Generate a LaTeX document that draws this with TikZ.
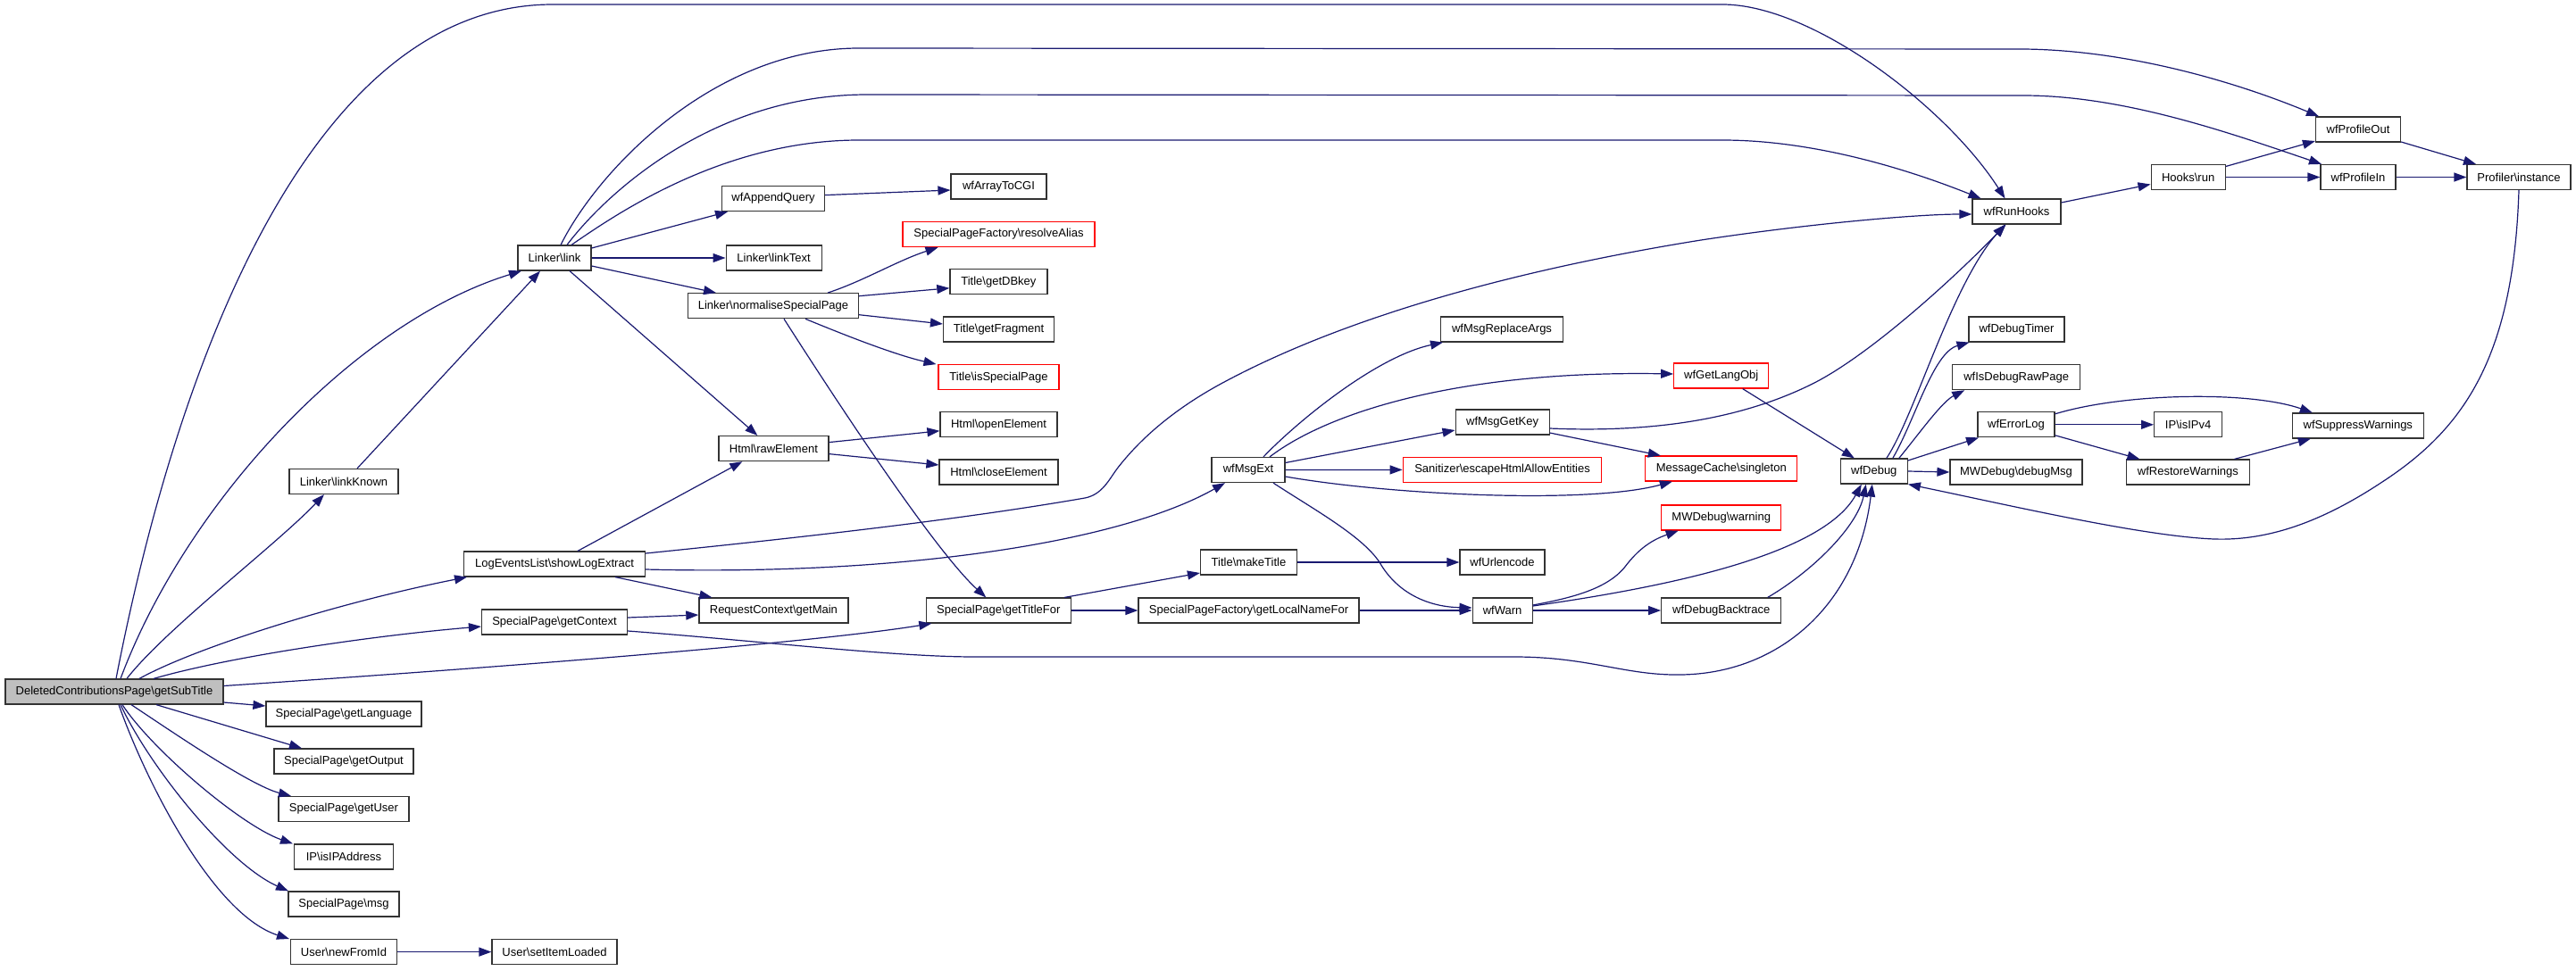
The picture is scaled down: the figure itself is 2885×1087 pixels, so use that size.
\documentclass[tikz,border=0pt]{standalone}
\usepackage{fontspec}
\setmainfont{Liberation Sans}
\usetikzlibrary{arrows.meta}
\definecolor{mblue}{RGB}{25,25,112}
\definecolor{boxgray}{RGB}{191,191,191}
\newcommand{\bsl}{\textbackslash}
\begin{document}
\begin{tikzpicture}[x=1pt,y=-1pt,
  box/.style={draw=black!80, line width=1.2pt, fill=white, minimum height=28pt, inner sep=0pt, font=\fontsize{13}{15}\selectfont, anchor=center},
  redbox/.style={box, draw=red},
  edge/.style={draw=mblue, line width=1.2pt, -{Triangle[length=14pt,width=10pt]}}]
\fill[white] (0,0) rectangle (2885,1087);
\useasboundingbox (0,0) rectangle (2885,1087);

% nodes
\node[box, minimum width=244pt, fill=boxgray] (D) at (128,775) {DeletedContributionsPage\bsl getSubTitle};
\node[box, minimum width=82pt] (link) at (621,289) {Linker\bsl link};
\node[box, minimum width=122pt] (linkKnown) at (385,539.5) {Linker\bsl linkKnown};
\node[box, minimum width=203pt] (showLog) at (621,632) {LogEventsList\bsl showLogExtract};
\node[box, minimum width=163pt] (getContext) at (621,697) {SpecialPage\bsl getContext};
\node[box, minimum width=174pt] (getLanguage) at (385,800) {SpecialPage\bsl getLanguage};
\node[box, minimum width=156pt] (getOutput) at (385,853) {SpecialPage\bsl getOutput};
\node[box, minimum width=146pt] (getUser) at (385,906.5) {SpecialPage\bsl getUser};
\node[box, minimum width=111pt] (isIPAddress) at (385,960) {IP\bsl isIPAddress};
\node[box, minimum width=124pt] (msg) at (385,1013) {SpecialPage\bsl msg};
\node[box, minimum width=119pt] (newFromId) at (385,1066.6) {User\bsl newFromId};
\node[box, minimum width=140pt] (setItemLoaded) at (621,1066.6) {User\bsl setItemLoaded};
\node[box, minimum width=115pt] (appendQuery) at (866,222.6) {wfAppendQuery};
\node[box, minimum width=107pt] (arrayToCGI) at (1118.5,209) {wfArrayToCGI};
\node[redbox, minimum width=215pt] (resolveAlias) at (1118.5,262.6) {SpecialPageFactory\bsl resolveAlias};
\node[box, minimum width=107pt] (linkText) at (866.6,289) {Linker\bsl linkText};
\node[box, minimum width=109pt] (getDBkey) at (1118.4,315.8) {Title\bsl getDBkey};
\node[box, minimum width=191pt] (normalise) at (866,342.7) {Linker\bsl normaliseSpecialPage};
\node[box, minimum width=124pt] (getFragment) at (1118.5,369) {Title\bsl getFragment};
\node[redbox, minimum width=135pt] (isSpecialPage) at (1118.5,422.7) {Title\bsl isSpecialPage};
\node[box, minimum width=131pt] (openElement) at (1118.5,475.8) {Html\bsl openElement};
\node[box, minimum width=123pt] (rawElement) at (866.4,502.6) {Html\bsl rawElement};
\node[box, minimum width=133pt] (closeElement) at (1118.5,529) {Html\bsl closeElement};
\node[box, minimum width=82pt] (msgExt) at (1398,526.5) {wfMsgExt};
\node[box, minimum width=167pt] (getMain) at (866.4,684) {RequestContext\bsl getMain};
\node[box, minimum width=162pt] (getTitleFor) at (1118.3,684) {SpecialPage\bsl getTitleFor};
\node[box, minimum width=247pt] (getLocalNameFor) at (1398.5,684) {SpecialPageFactory\bsl getLocalNameFor};
\node[box, minimum width=108pt] (makeTitle) at (1398.5,630) {Title\bsl makeTitle};
\node[box, minimum width=137pt] (msgReplaceArgs) at (1682,369) {wfMsgReplaceArgs};
\node[redbox, minimum width=106pt] (getLangObj) at (1927.7,421) {wfGetLangObj};
\node[box, minimum width=105pt] (msgGetKey) at (1682.6,473) {wfMsgGetKey};
\node[redbox, minimum width=222.5pt] (sanitizer) at (1682.5,526.4) {Sanitizer\bsl escapeHtmlAllowEntities};
\node[redbox, minimum width=170pt] (singleton) at (1927.8,525) {MessageCache\bsl singleton};
\node[box, minimum width=75pt] (wfDebug) at (2098.8,528) {wfDebug};
\node[redbox, minimum width=134pt] (warning) at (1927.7,580) {MWDebug\bsl warning};
\node[box, minimum width=95pt] (urlencode) at (1682.5,630) {wfUrlencode};
\node[box, minimum width=67pt] (wfWarn) at (1682.6,684) {wfWarn};
\node[box, minimum width=134pt] (backtrace) at (1927.7,684) {wfDebugBacktrace};
\node[box, minimum width=95pt] (profileOut) at (2641,145) {wfProfileOut};
\node[box, minimum width=99pt] (runHooks) at (2258.5,237) {wfRunHooks};
\node[box, minimum width=83pt] (hooksRun) at (2450.6,198.5) {Hooks\bsl run};
\node[box, minimum width=84pt] (profileIn) at (2641,198.5) {wfProfileIn};
\node[box, minimum width=116pt] (profiler) at (2821,198.5) {Profiler\bsl instance};
\node[box, minimum width=107pt] (debugTimer) at (2258.5,369) {wfDebugTimer};
\node[box, minimum width=143pt] (isDebugRaw) at (2258.2,422.7) {wfIsDebugRawPage};
\node[box, minimum width=86pt] (errorLog) at (2258,475.8) {wfErrorLog};
\node[box, minimum width=76pt] (isIPv4) at (2450.6,475.8) {IP\bsl isIPv4};
\node[box, minimum width=147pt] (suppress) at (2640.8,477) {wfSuppressWarnings};
\node[box, minimum width=148pt] (debugMsg) at (2258,529) {MWDebug\bsl debugMsg};
\node[box, minimum width=138pt] (restore) at (2450.4,529) {wfRestoreWarnings};

% edges from DeletedContributionsPage
\draw[edge] ([xshift=2pt]D.north) .. controls (200,400) and (350,5) .. (619,5) -- (1929,5) .. controls (2030,5) and (2180,120) .. ([xshift=-13pt]runHooks.north);
\draw[edge] ([xshift=7pt]D.north) .. controls (210,560) and (400,360) .. ([xshift=-37pt]link.south);
\draw[edge] ([xshift=14pt]D.north) .. controls (185,705) and (310,610) .. ([xshift=-22pt]linkKnown.south);
\draw[edge] ([xshift=28pt]D.north) .. controls (220,725) and (380,675) .. ([xshift=-98pt]showLog.south);
\draw[edge] ([xshift=44pt]D.north) .. controls (260,735) and (420,712) .. ([yshift=-5pt]getContext.west);
\draw[edge] ([yshift=6.5pt]D.east) .. controls (500,752) and (900,722) .. ([xshift=-75pt]getTitleFor.south);
\draw[edge] ([yshift=-12pt]D.east) -- ([yshift=9pt]getLanguage.west);
\draw[edge] ([xshift=47pt]D.south) -- ([xshift=-47pt]getOutput.north);
\draw[edge] ([xshift=19pt]D.south) .. controls (190,818) and (280,880) .. ([xshift=-59pt]getUser.north);
\draw[edge] ([xshift=9pt]D.south) .. controls (170,840) and (270,925) .. ([xshift=-57pt]isIPAddress.north);
\draw[edge] ([xshift=7pt]D.south) .. controls (168,860) and (255,968) .. ([xshift=-62pt]msg.north);
\draw[edge] ([xshift=5pt]D.south) .. controls (165,880) and (240,1025) .. ([xshift=-61pt]newFromId.north);

% getContext
\draw[edge] ([yshift=5pt]getContext.east) -- ([yshift=-5pt]getMain.west);
\draw[edge] ([yshift=-10pt]getContext.east) .. controls (850,718) and (1000,736) .. (1092,736) -- (1696,736) .. controls (1780,736) and (1820,757) .. (1882,756) .. controls (1990,755) and (2080,680) .. ([xshift=-2pt]wfDebug.south);

% showLogExtract
\draw[edge] ([xshift=26pt]showLog.north) -- ([xshift=-35pt]rawElement.south);
\draw[edge] ([yshift=12pt]showLog.east) .. controls (950,597) and (1100,578) .. (1215,558) .. controls (1235,554) and (1242,537) .. (1252,524) .. controls (1280,488) and (1320,455) .. (1373,427) .. controls (1480,370) and (1650,310) .. (1905,269) .. controls (2030,250) and (2150,240) .. ([yshift=-3pt]runHooks.west);
\draw[edge] ([xshift=68pt]showLog.south) -- ([xshift=-69pt]getMain.north);
\draw[edge] ([yshift=-6pt]showLog.east) .. controls (1000,645) and (1250,610) .. ([xshift=-26pt]msgExt.south);

% Linker\link
\draw[edge] ([xshift=7pt]link.north) .. controls (670,190) and (800,54) .. (962,54) -- (2266,55) .. controls (2380,56) and (2500,90) .. ([xshift=-44pt]profileOut.north);
\draw[edge] ([xshift=14pt]link.north) .. controls (680,215) and (800,106) .. (971,106) -- (2266,107) .. controls (2380,107) and (2500,150) .. ([xshift=-41pt]profileIn.north);
\draw[edge] ([xshift=19pt]link.north) .. controls (690,240) and (810,157) .. (962,157) -- (1929,157) .. controls (2040,157) and (2150,195) .. ([xshift=-40pt]runHooks.north);
\draw[edge] ([yshift=11pt]link.east) -- ([xshift=-51pt]appendQuery.south);
\draw[edge] (link.east) -- (linkText.west);
\draw[edge] ([yshift=-9pt]link.east) -- ([xshift=-64pt]normalise.north);
\draw[edge] ([xshift=17pt]link.south) -- ([xshift=-18pt]rawElement.north);
\draw[edge] ([xshift=15pt]linkKnown.north) -- ([xshift=-16pt]link.south);

% normaliseSpecialPage
\draw[edge] ([xshift=61pt]normalise.north) .. controls (967,315) and (1005,292) .. ([xshift=-68pt]resolveAlias.south);
\draw[edge] ([yshift=11pt]normalise.east) -- ([yshift=-7pt]getDBkey.west);
\draw[edge] ([yshift=-10pt]normalise.east) -- ([yshift=6pt]getFragment.west);
\draw[edge] ([xshift=36pt]normalise.south) .. controls (940,373) and (1000,397) .. ([xshift=-70pt]isSpecialPage.north);
\draw[edge] ([xshift=12pt]normalise.south) .. controls (950,470) and (1050,620) .. ([xshift=-14pt]getTitleFor.north);

% Html\rawElement, wfAppendQuery
\draw[edge] ([yshift=7pt]rawElement.east) -- ([yshift=-7pt]openElement.west);
\draw[edge] ([yshift=-6pt]rawElement.east) -- ([yshift=8pt]closeElement.west);
\draw[edge] ([yshift=4pt]appendQuery.east) -- ([yshift=-4pt]arrayToCGI.west);

% getTitleFor and friends
\draw[edge] ([xshift=74pt]getTitleFor.north) -- ([yshift=-12pt]makeTitle.west);
\draw[edge] (getTitleFor.east) -- (getLocalNameFor.west);
\draw[edge] (makeTitle.east) -- (urlencode.west);
\draw[edge] (getLocalNameFor.east) -- (wfWarn.west);

% wfMsgExt
\draw[edge] ([xshift=17pt]msgExt.north) .. controls (1450,475) and (1540,400) .. ([xshift=-66pt]msgReplaceArgs.south);
\draw[edge] ([xshift=24pt]msgExt.north) .. controls (1490,460) and (1640,415) .. ([yshift=2pt]getLangObj.west);
\draw[edge] ([yshift=8pt]msgExt.east) -- ([yshift=-9pt]msgGetKey.west);
\draw[edge] (msgExt.east) -- (sanitizer.west);
\draw[edge] ([yshift=-7.5pt]msgExt.east) .. controls (1560,555) and (1780,565) .. ([xshift=-55pt]singleton.south);
\draw[edge] ([xshift=28pt]msgExt.south) .. controls (1470,570) and (1525,600) .. (1545,630) .. controls (1565,665) and (1600,680) .. ([yshift=3pt]wfWarn.west);

% wfMsgGetKey, wfGetLangObj
\draw[edge] ([yshift=-7pt]msgGetKey.east) .. controls (1850,485) and (1950,470) .. (2030,430) .. controls (2090,400) and (2180,320) .. ([xshift=-12pt]runHooks.south);
\draw[edge] ([yshift=-12pt]msgGetKey.east) -- ([xshift=-68pt]singleton.north);
\draw[edge] ([xshift=24pt]getLangObj.south) -- ([xshift=-22pt]wfDebug.north);

% wfWarn, wfDebugBacktrace
\draw[edge] ([yshift=6pt]wfWarn.east) .. controls (1760,670) and (1800,660) .. (1820,635) .. controls (1835,615) and (1850,605) .. ([xshift=-48pt]warning.south);
\draw[edge] ([yshift=5pt]wfWarn.east) .. controls (1850,660) and (2040,625) .. ([xshift=-14pt]wfDebug.south);
\draw[edge] (wfWarn.east) -- (backtrace.west);
\draw[edge] ([xshift=52pt]backtrace.north) .. controls (2030,640) and (2080,590) .. ([xshift=-9pt]wfDebug.south);

% wfDebug
\draw[edge] ([xshift=14pt]wfDebug.north) .. controls (2145,465) and (2185,320) .. ([xshift=-13pt]runHooks.south);
\draw[edge] ([xshift=21pt]wfDebug.north) .. controls (2145,470) and (2165,395) .. ([xshift=-53pt]debugTimer.south);
\draw[edge] ([xshift=28pt]wfDebug.north) .. controls (2150,485) and (2175,450) .. ([xshift=-58pt]isDebugRaw.south);
\draw[edge] ([yshift=12pt]wfDebug.east) -- ([xshift=-42pt]errorLog.south);
\draw[edge] (wfDebug.east) -- (debugMsg.west);
\draw[edge] (profiler.south) .. controls (2815,400) and (2760,480) .. (2668,540) .. controls (2600,585) and (2540,606) .. (2480,604) .. controls (2400,601) and (2250,566) .. (wfDebug.south east);

% wfErrorLog
\draw[edge] ([yshift=12pt]errorLog.east) .. controls (2380,440) and (2520,438) .. ([xshift=-51pt]suppress.north);
\draw[edge] (errorLog.east) -- (isIPv4.west);
\draw[edge] ([yshift=-12pt]errorLog.east) -- ([xshift=-54pt]restore.north);
\draw[edge] ([xshift=52pt]restore.north) -- ([xshift=-53pt]suppress.south);

% wfRunHooks, Hooks\run, profiling
\draw[edge] ([yshift=10pt]runHooks.east) -- ([yshift=-8pt]hooksRun.west);
\draw[edge] ([yshift=12pt]hooksRun.east) -- ([yshift=-13pt]profileOut.west);
\draw[edge] (hooksRun.east) -- (profileIn.west);
\draw[edge] ([yshift=-14pt]profileOut.east) -- ([xshift=-48pt]profiler.north);
\draw[edge] (profileIn.east) -- (profiler.west);

% User
\draw[edge] (newFromId.east) -- (setItemLoaded.west);
\end{tikzpicture}
\end{document}
